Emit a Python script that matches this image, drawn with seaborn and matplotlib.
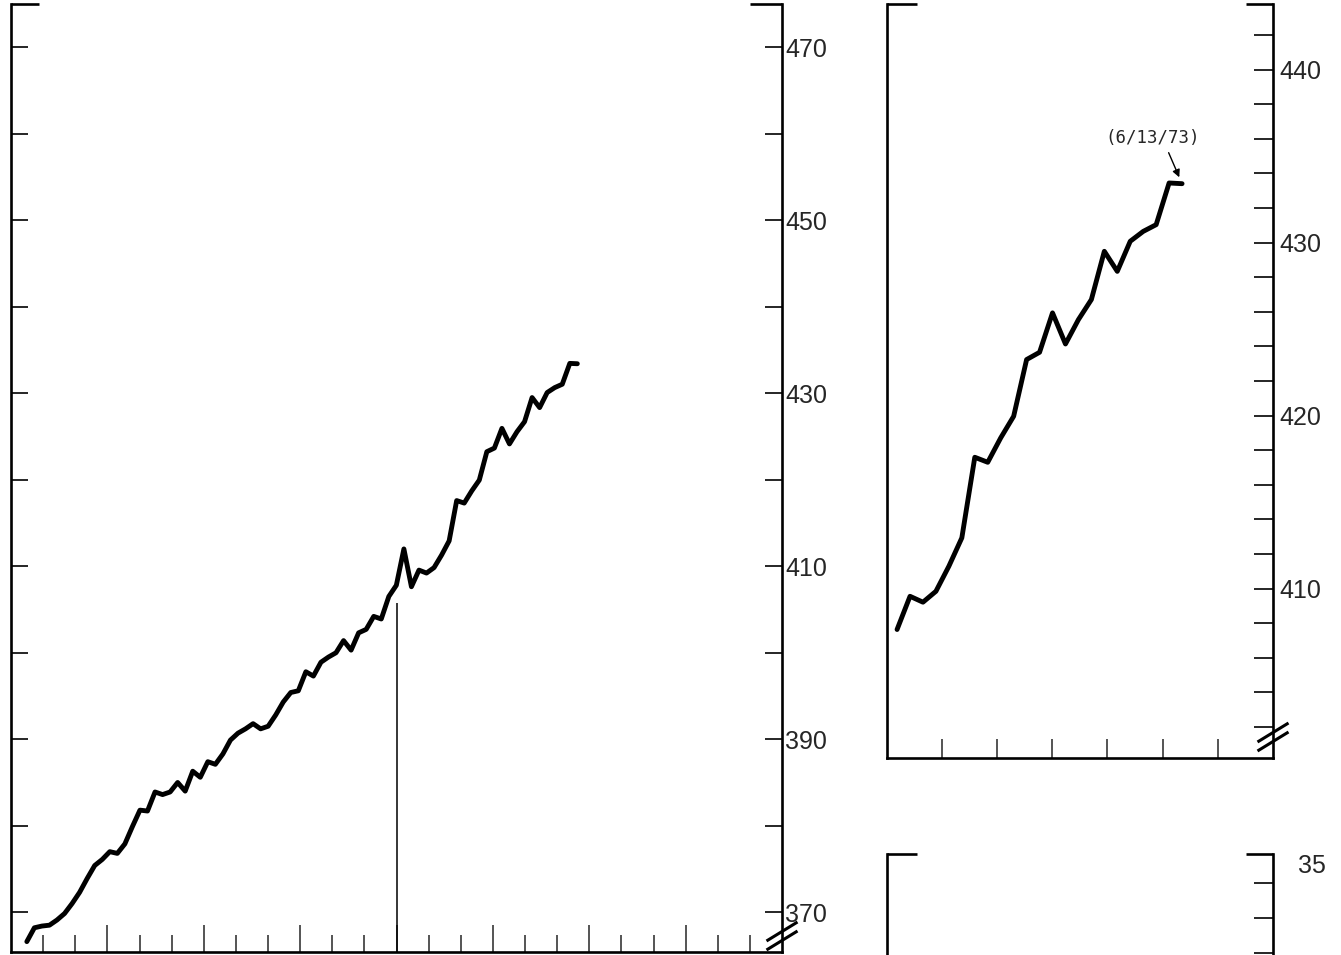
import numpy as np
import pandas as pd
import seaborn as sns
import matplotlib.pyplot as plt
from matplotlib.ticker import MultipleLocator, FixedLocator, NullFormatter

# weekly index values (first week -> last week)
index_values = [
    366.6, 368.2, 368.4, 368.5, 369.1, 369.85, 371.0, 372.3, 373.9, 375.4,
    376.1, 377.0, 376.8, 377.9, 379.9, 381.8, 381.7, 383.9, 383.6, 383.9,
    385.0, 384.0, 386.3, 385.6, 387.4, 387.1, 388.3, 389.9, 390.7, 391.2,
    391.8, 391.2, 391.5, 392.8, 394.3, 395.4, 395.6, 397.8, 397.3, 398.9,
    399.5, 400.0, 401.4, 400.3, 402.3, 402.7, 404.2, 403.9, 406.5, 407.8,
    412.0,
    407.63, 409.55, 409.21, 409.84, 411.29, 412.93, 417.59, 417.30, 418.71,
    419.96, 423.24, 423.66, 425.94, 424.14, 425.55, 426.71, 429.50, 428.34,
    430.08, 430.65, 431.04, 433.45, 433.41,
]
first_week = 2.1           # weeks after the start of the left chart
weeks_per_month = 4.26
left_months = 24
zoom_start = 51            # first week shown in the enlarged panel
zoom_months = 7
marker_month = 12
marker_top = 405.7
note_text = "(6/13/73)"

left_labels = [370, 390, 410, 430, 450, 470]
left_minor = [380, 400, 420, 440, 460]
right_labels = [410, 420, 430, 440]
right_minor = [402, 404, 406, 408, 412, 414, 416, 418, 422, 424, 426, 428,
               432, 434, 436, 438, 442]
lower_label = "35"

df = pd.DataFrame({"week": first_week + np.arange(len(index_values)),
                   "value": index_values})
zoom_df = df.iloc[zoom_start:]

sns.set_style("ticks")
plt.rcParams["font.family"] = ["Liberation Sans", "DejaVu Sans"]

W, H = 1341, 955
fig = plt.figure(figsize=(W / 100, H / 100), dpi=100)


def px_axes(l, r, t, b):
    return fig.add_axes([l / W, 1 - b / H, (r - l) / W, (b - t) / H])


def frame(ax, w_px, left_stub, right_stub):
    ax.spines["top"].set_visible(False)
    for s in ["left", "right", "bottom"]:
        ax.spines[s].set_visible(True)
        ax.spines[s].set_linewidth(1.9)
        ax.spines[s].set_color("black")
    ax.plot([0, left_stub / w_px], [1, 1], transform=ax.transAxes,
            color="black", lw=1.9, clip_on=False, solid_capstyle="butt")
    ax.plot([1 - right_stub / w_px, 1], [1, 1], transform=ax.transAxes,
            color="black", lw=1.9, clip_on=False, solid_capstyle="butt")


def break_mark(ax, w_px, h_px, fy):
    for off in (-4.5, 4.5):
        ax.plot([1 - 15.5 / w_px, 1 + 15.5 / w_px],
                [fy + (off - 9.5) / h_px, fy + (off + 9.5) / h_px],
                transform=ax.transAxes, color="black", lw=2.2,
                clip_on=False, solid_capstyle="butt")


# ---- left: whole period ----
ax1 = px_axes(11, 782, 4, 952)
sns.lineplot(data=df, x="week", y="value", ax=ax1, color="black",
             linewidth=3.5, legend=False)
ax1.vlines(marker_month * weeks_per_month, 360, marker_top,
           color="black", lw=1.1)
ax1.set_xlim(0, left_months * weeks_per_month)
ax1.set_ylim(365.4, 475.0)
frame(ax1, 771, 28, 32)
ax1.yaxis.set_major_locator(FixedLocator(left_labels))
ax1.yaxis.set_minor_locator(FixedLocator(left_minor))
ax1.tick_params(axis="y", which="both", direction="in", left=True, right=True,
                labelleft=False, labelright=True, length=12.2, width=1.4,
                labelsize=18, pad=2.5)
quarters = [m * weeks_per_month for m in range(3, left_months, 3)]
months = [m * weeks_per_month for m in range(1, left_months) if m % 3]
ax1.xaxis.set_major_locator(FixedLocator(quarters))
ax1.xaxis.set_minor_locator(FixedLocator(months))
ax1.xaxis.set_major_formatter(NullFormatter())
ax1.tick_params(axis="x", which="major", direction="in", length=19.4, width=1.1)
ax1.tick_params(axis="x", which="minor", direction="in", length=12.2, width=1.1)
ax1.set_xlabel("")
ax1.set_ylabel("")
break_mark(ax1, 771, 948, (952 - 936) / 948)

# ---- right: enlarged recent weeks ----
ax2 = px_axes(886.7, 1273, 4, 758)
sns.lineplot(data=zoom_df, x="week", y="value", ax=ax2, color="black",
             linewidth=3.5, legend=False)
x0 = zoom_df["week"].iloc[0] - 0.8
ax2.set_xlim(x0, x0 + zoom_months * weeks_per_month)
ax2.set_ylim(400.2, 443.8)
frame(ax2, 386.3, 30, 27)
ax2.yaxis.set_major_locator(FixedLocator(right_labels))
ax2.yaxis.set_minor_locator(FixedLocator(right_minor))
ax2.tick_params(axis="y", which="both", direction="in", left=False, right=True,
                labelleft=False, labelright=True, length=13.5, width=1.4,
                labelsize=18, pad=4.5)
ax2.xaxis.set_major_locator(FixedLocator(
    [x0 + m * weeks_per_month for m in range(1, zoom_months)]))
ax2.xaxis.set_major_formatter(NullFormatter())
ax2.tick_params(axis="x", direction="in", length=13.5, width=1.1)
ax2.set_xlabel("")
ax2.set_ylabel("")
break_mark(ax2, 386.3, 754, (758 - 737) / 754)

last = zoom_df.iloc[-1]
ax2.annotate(note_text, xy=(last["week"], last["value"]),
             xytext=(-21, 33), textcoords="offset points",
             ha="center", va="center", fontsize=12.5,
             family=["DejaVu Sans Mono"],
             arrowprops=dict(arrowstyle="-|>", color="black", lw=1.0,
                             mutation_scale=11, relpos=(0.64, 0.0),
                             shrinkA=2, shrinkB=5))

# ---- lower right: next panel, mostly off the page ----
ax3 = px_axes(886.7, 1273, 854, 1608)
ax3.set_xlim(0, 1)
ax3.set_ylim(-0.74, 20.83)
frame(ax3, 386.3, 30, 27)
ax3.yaxis.set_major_locator(MultipleLocator(1))
ax3.yaxis.set_major_formatter(NullFormatter())
ax3.tick_params(axis="y", direction="in", left=False, right=True,
                labelleft=False, labelright=False, length=13.5, width=1.4)
ax3.set_xticks([])
ax3.text(1.065, 20.49, lower_label, transform=ax3.get_yaxis_transform(),
         ha="left", va="center", fontsize=18)

fig.savefig("out.png", dpi=100)
